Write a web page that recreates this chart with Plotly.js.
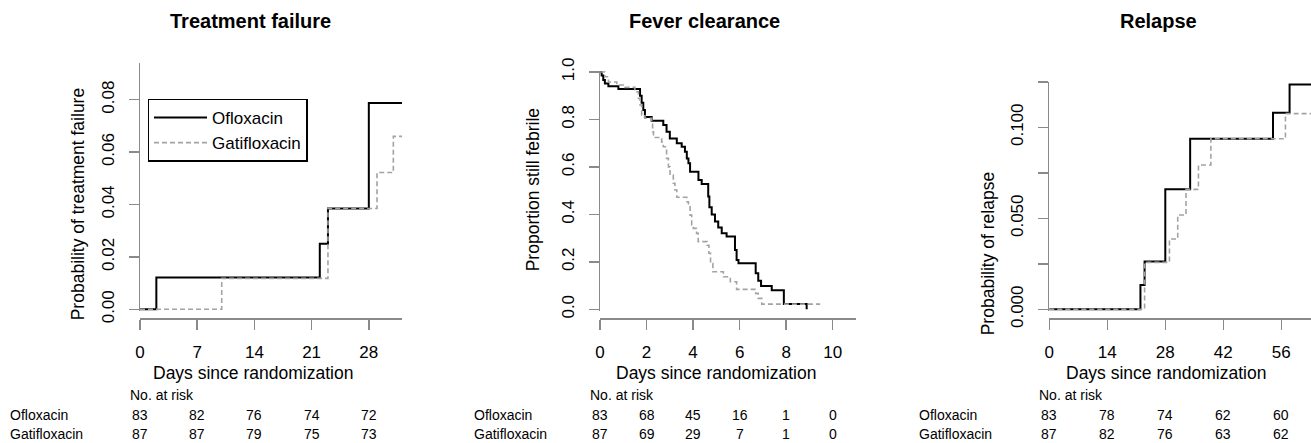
<!DOCTYPE html>
<html><head><meta charset="utf-8">
<script src="https://cdn.plot.ly/plotly-3.0.1.min.js"></script>
<style>html,body{margin:0;padding:0;background:#fff;}#chart{width:1311px;height:443px;}</style>
</head><body><div id="chart"></div>
<script>
// ---------------- DATA ----------------
const groups = ['Ofloxacin', 'Gatifloxacin'];

// Treatment failure (cumulative probability, step function)
const tfOfloxDays = [0, 2, 22, 23, 28, 33];
const tfOfloxProb = [0, 0.0121, 0.0250, 0.0385, 0.0787, 0.0787];
const tfGatiDays  = [0, 10, 23, 29, 31, 33];
const tfGatiProb  = [0, 0.0118, 0.0385, 0.0522, 0.0660, 0.0660];

// Fever clearance (proportion still febrile, step function)
const fcOfloxDays = [0, 0.07, 0.14, 0.21, 0.36, 0.79, 1.72, 1.79, 1.86, 1.93, 2.22, 2.72, 2.86, 3.00, 3.30, 3.51, 3.65, 3.73, 3.80, 3.87, 4.23, 4.37, 4.65, 4.70, 4.80, 4.94, 5.08, 5.23, 5.44, 5.80, 5.87, 5.95, 6.69, 6.80, 6.92, 7.38, 7.90, 8.88];
const fcOfloxProp = [1.0, 0.985, 0.966, 0.952, 0.940, 0.928, 0.900, 0.870, 0.840, 0.810, 0.795, 0.777, 0.748, 0.720, 0.700, 0.685, 0.664, 0.636, 0.615, 0.580, 0.545, 0.528, 0.475, 0.430, 0.400, 0.370, 0.345, 0.320, 0.307, 0.250, 0.208, 0.194, 0.152, 0.120, 0.098, 0.080, 0.022, 0.0];
const fcGatiDays  = [0, 0.21, 0.36, 0.72, 1.07, 1.50, 1.58, 1.65, 1.72, 1.79, 1.93, 2.22, 2.26, 2.30, 2.65, 2.72, 2.86, 2.94, 3.01, 3.15, 3.22, 3.30, 3.73, 3.80, 3.87, 3.94, 4.01, 4.15, 4.22, 4.60, 4.68, 4.75, 4.85, 5.30, 5.60, 5.87, 6.69, 6.80, 6.95, 9.46];
const fcGatiProp  = [1.0, 0.980, 0.958, 0.945, 0.935, 0.925, 0.917, 0.889, 0.861, 0.819, 0.805, 0.784, 0.748, 0.724, 0.705, 0.685, 0.636, 0.600, 0.566, 0.531, 0.503, 0.472, 0.453, 0.432, 0.397, 0.355, 0.341, 0.320, 0.285, 0.270, 0.236, 0.194, 0.158, 0.137, 0.116, 0.084, 0.067, 0.046, 0.022, 0.022];

// Relapse (cumulative probability, step function)
const rlOfloxDays = [0, 22, 23, 28, 34, 54, 58, 64];
const rlOfloxProb = [0, 0.0134, 0.0262, 0.0659, 0.0937, 0.1080, 0.1235, 0.1235];
const rlGatiDays  = [0, 23, 29, 31, 33, 36, 39, 57, 64];
const rlGatiProb  = [0, 0.0258, 0.0386, 0.0518, 0.0659, 0.0793, 0.0937, 0.1075, 0.1075];

// Tick values / labels
const tfXTicks = [0, 7, 14, 21, 28];
const tfYTicks = [0, 0.02, 0.04, 0.06, 0.08];
const tfYLabels = ['0.00', '0.02', '0.04', '0.06', '0.08'];
const fcXTicks = [0, 2, 4, 6, 8, 10];
const fcYTicks = [0, 0.2, 0.4, 0.6, 0.8, 1.0];
const fcYLabels = ['0.0', '0.2', '0.4', '0.6', '0.8', '1.0'];
const rlXTicks = [0, 14, 28, 42, 56];
const rlYTicks = [0, 0.025, 0.05, 0.075, 0.1, 0.125];
const rlYLabels = ['0.000', '', '0.050', '', '0.100', ''];

// Number at risk
const tfRiskOflox = [83, 82, 76, 74, 72];
const tfRiskGati  = [87, 87, 79, 75, 73];
const fcRiskOflox = [83, 68, 45, 16, 1, 0];
const fcRiskGati  = [87, 69, 29, 7, 1, 0];
const rlRiskOflox = [83, 78, 74, 62, 60];
const rlRiskGati  = [87, 82, 76, 63, 62];

const panelTitles = ['Treatment failure', 'Fever clearance', 'Relapse'];
const yTitles = ['Probability of treatment failure', 'Proportion still febrile', 'Probability of relapse'];
const xTitle = 'Days since randomization';
const riskHeader = 'No. at risk';

// ---------------- LAYOUT ----------------
const W = 1311, H = 443;
const FONT = 'Liberation Sans, Arial, Helvetica, sans-serif';
const GRAY = '#8a8a8a';
const px2x = p => p / W;
const py2y = p => 1 - p / H;

const traces = [];
function addPanel(idx, oD, oP, gD, gP) {
  const xa = idx === 1 ? 'x' : 'x' + idx;
  const ya = idx === 1 ? 'y' : 'y' + idx;
  traces.push({x: oD, y: oP, xaxis: xa, yaxis: ya, type: 'scatter', mode: 'lines',
    line: {shape: 'hv', color: '#000', width: 2}, name: groups[0], legendgroup: 'o',
    showlegend: idx === 1, hoverinfo: 'skip'});
  traces.push({x: gD, y: gP, xaxis: xa, yaxis: ya, type: 'scatter', mode: 'lines',
    line: {shape: 'hv', color: '#a3a3a3', width: 1.6, dash: '5px,3px'}, name: groups[1], legendgroup: 'g',
    showlegend: idx === 1, hoverinfo: 'skip'});
}
addPanel(1, tfOfloxDays, tfOfloxProb, tfGatiDays, tfGatiProb);
addPanel(2, fcOfloxDays, fcOfloxProp, fcGatiDays, fcGatiProp);
addPanel(3, rlOfloxDays, rlOfloxProb, rlGatiDays, rlGatiProb);

// panel geometry in pixels
const panels = [
  {left: 140, right: 402, xmax: 32.06, top: 63, zeroPx: 309.3, pxPerUnit: 2620, xticks: tfXTicks, yticks: tfYTicks, ylabels: tfYLabels},
  {left: 600, right: 856, xmax: 11.0, top: 71, zeroPx: 309.3, pxPerUnit: 237.3, xticks: fcXTicks, yticks: fcYTicks, ylabels: fcYLabels},
  {left: 1049.3, right: 1311, xmax: 63.17, top: 81.7, zeroPx: 309.3, pxPerUnit: 1820, xticks: rlXTicks, yticks: rlYTicks, ylabels: rlYLabels}
];
const bottomPx = 311;
const xAxisPx = 318.3;

const layout = {
  width: W, height: H,
  margin: {l: 0, r: 0, t: 0, b: 0},
  paper_bgcolor: '#fff', plot_bgcolor: '#fff',
  font: {family: FONT, color: '#000'},
  showlegend: true,
  legend: {x: px2x(147.7), y: py2y(98.7), xanchor: 'left', yanchor: 'top',
    bordercolor: '#000', borderwidth: 1.3, bgcolor: '#fff',
    font: {size: 17, family: FONT, color: '#000'}, tracegroupgap: 0, itemwidth: 53},
  annotations: [],
  shapes: []
};

panels.forEach((p, i) => {
  const n = i + 1;
  const xk = n === 1 ? 'xaxis' : 'xaxis' + n;
  const yk = n === 1 ? 'yaxis' : 'yaxis' + n;
  const xName = n === 1 ? 'x' : 'x' + n;
  layout[xk] = {
    domain: [px2x(p.left), px2x(p.right)], range: [0, p.xmax],
    anchor: 'free', position: py2y(xAxisPx),
    showline: true, linecolor: GRAY, linewidth: 1.5,
    ticks: 'outside', ticklen: 10, tickwidth: 1.5, tickcolor: GRAY,
    tickmode: 'array', tickvals: p.xticks, ticktext: p.xticks.map(String),
    tickfont: {size: 17, family: FONT, color: '#000'}, ticklabelstandoff: 8,
    showgrid: false, zeroline: false, fixedrange: true
  };
  const yLow = -(bottomPx - p.zeroPx) / p.pxPerUnit;
  const yHigh = (p.zeroPx - p.top) / p.pxPerUnit;
  layout[yk] = {
    domain: [py2y(bottomPx), py2y(p.top)], range: [yLow, yHigh],
    anchor: xName,
    showline: true, linecolor: GRAY, linewidth: 1.5,
    ticks: 'outside', ticklen: 10, tickwidth: 1.5, tickcolor: GRAY,
    tickmode: 'array', tickvals: p.yticks, ticktext: p.ylabels, tickangle: -90,
    tickfont: {size: 17, family: FONT, color: '#000'}, ticklabelstandoff: 8,
    showgrid: false, zeroline: false, fixedrange: true
  };
});

// Titles
const titleX = [250, 704, 1158.7];
panelTitles.forEach((t, i) => layout.annotations.push({
  text: '<b>' + t + '</b>', xref: 'paper', yref: 'paper', x: px2x(titleX[i]), y: py2y(21),
  xanchor: 'center', yanchor: 'middle', showarrow: false, font: {size: 20, family: FONT, color: '#000'}
}));
// Y titles
const yTitlePos = [[78.3, 204], [533.3, 190], [988.3, 254]];
yTitles.forEach((t, i) => layout.annotations.push({
  text: t, xref: 'paper', yref: 'paper', x: px2x(yTitlePos[i][0]), y: py2y(yTitlePos[i][1]),
  xanchor: 'center', yanchor: 'middle', textangle: -90, showarrow: false,
  font: {size: 17.5, family: FONT, color: '#000'}
}));
// X titles
const xTitleX = [253, 716, 1165.5];
xTitleX.forEach(x => layout.annotations.push({
  text: xTitle, xref: 'paper', yref: 'paper', x: px2x(x), y: py2y(373.3),
  xanchor: 'center', yanchor: 'middle', showarrow: false, font: {size: 17.5, family: FONT, color: '#000'}
}));
// Risk table
const headerX = [128, 588.3, 1036.7];
const rowLabelX = [8, 471.7, 916.7];
const risk = [[tfRiskOflox, tfRiskGati], [fcRiskOflox, fcRiskGati], [rlRiskOflox, rlRiskGati]];
const rowY = [414.5, 434];
panels.forEach((p, i) => {
  const xName = i === 0 ? 'x' : 'x' + (i + 1);
  layout.annotations.push({text: riskHeader, xref: 'paper', yref: 'paper', x: px2x(headerX[i]), y: py2y(394.5),
    xanchor: 'left', yanchor: 'middle', showarrow: false, font: {size: 14, family: FONT, color: '#000'}});
  groups.forEach((g, r) => {
    layout.annotations.push({text: g, xref: 'paper', yref: 'paper', x: px2x(rowLabelX[i]), y: py2y(rowY[r]),
      xanchor: 'left', yanchor: 'middle', showarrow: false, font: {size: 14, family: FONT, color: '#000'}});
    risk[i][r].forEach((v, k) => layout.annotations.push({
      text: String(v), xref: xName, yref: 'paper', x: p.xticks[k], y: py2y(rowY[r]),
      xanchor: 'center', yanchor: 'middle', showarrow: false, font: {size: 14, family: FONT, color: '#000'}
    }));
  });
});

Plotly.newPlot('chart', traces, layout, {staticPlot: true, displayModeBar: false});
</script>
</body></html>
